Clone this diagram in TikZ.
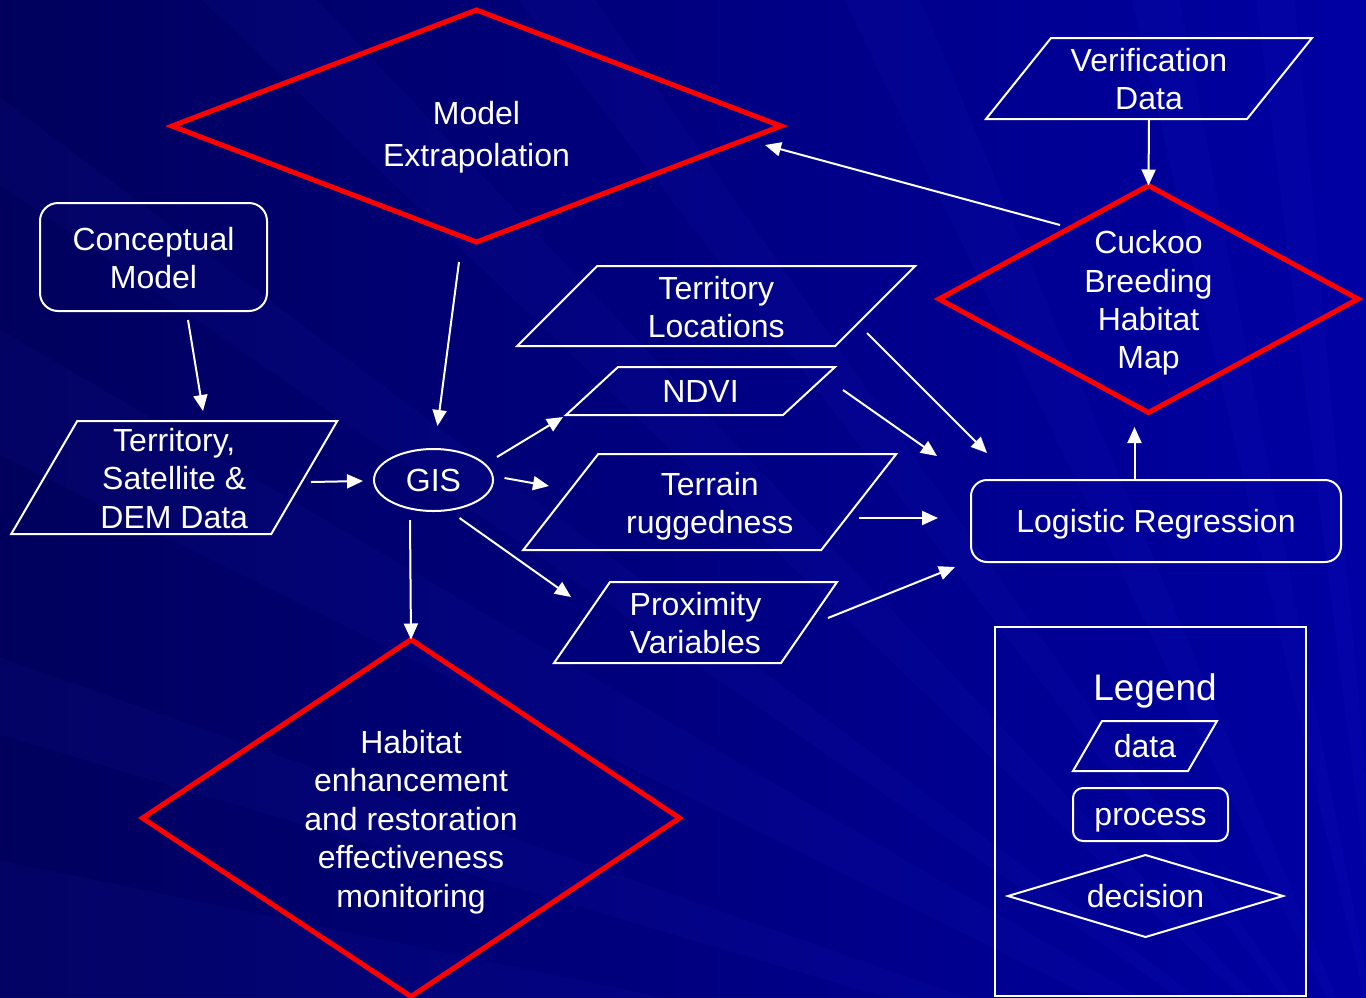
\documentclass[tikz,border=0pt]{standalone}
\usepackage{fontspec}
\setmainfont{Liberation Sans}
\usetikzlibrary{shapes.geometric,arrows.meta,calc}
\definecolor{bgA}{HTML}{00005C}
\definecolor{bgB}{HTML}{0000A4}
\definecolor{rayc}{HTML}{4040FF}
\definecolor{redline}{HTML}{FF0000}
\newcommand\pstrut{\rule[-0.212em]{0pt}{1.117em}}
\tikzset{
  wline/.style={draw=white, line width=2pt, line join=miter},
  lbl/.style={text=white, align=center, inner sep=0pt, outer sep=0pt, font=\fontsize{32}{38.4}\selectfont,
    execute at begin node=\pstrut, execute at end node=\pstrut},
  mtext/.style={label={[lbl, yshift=-4pt]center:{#1}}},
  redd/.style={diamond, draw=redline, line width=5pt, inner sep=0pt, outer sep=0pt},
  whited/.style={diamond, draw=white, line width=2pt, inner sep=0pt, outer sep=0pt},
  proc/.style={rectangle, draw=white, line width=2pt, inner sep=0pt, outer sep=0pt},
  databox/.style={rectangle, inner sep=0pt, outer sep=0pt},
  arr/.style={draw=white, line width=2pt, -{Triangle[length=16pt,width=14pt]}},
  ray/.style={fill=rayc, opacity=0.05},
}
\newcommand\paral[2]{\draw[wline] ($(#1.north west)+(#2,0)$) -- ($(#1.north east)+(#2,0)$) -- ($(#1.south east)+(-#2,0)$) -- ($(#1.south west)+(-#2,0)$) -- cycle;}
\begin{document}
\begin{tikzpicture}[x=1pt,y=-1pt]
\useasboundingbox (0,0) rectangle (1366,997);
% background
\shade[left color=bgA, right color=bgB] (0,0) rectangle (1366,997);
\begin{scope}
\clip (0,0) rectangle (1366,997);
\coordinate (F) at (1400,1150);
\fill[ray] (F) -- (-50,60) -- (-50,150) -- cycle;
\fill[ray] (F) -- (-50,300) -- (-50,430) -- cycle;
\fill[ray] (F) -- (-50,640) -- (-50,720) -- cycle;
\fill[ray] (F) -- (-50,850) -- (-50,1000) -- cycle;
\fill[ray] (F) -- (150,-50) -- (270,-50) -- cycle;
\fill[ray] (F) -- (480,-50) -- (560,-50) -- cycle;
\fill[ray] (F) -- (820,-50) -- (900,-50) -- cycle;
\fill[ray] (F) -- (1120,-50) -- (1170,-50) -- cycle;
\fill[ray] (F) -- (1250,-50) -- (1290,-50) -- cycle;
\end{scope}

% decisions
\node[redd, minimum width=609pt, minimum height=232pt, aspect=2.625] (me) at (476.5,126) {};
\node[lbl, font=\fontsize{32}{42}\selectfont] (metext) at (476.5,137.5) {Model\\Extrapolation};
\node[redd, minimum width=419pt, minimum height=227pt, aspect=1.85, mtext={Cuckoo\\Breeding\\Habitat\\Map}] (cbh) at (1148.5,299) {};
\node[redd, minimum width=537pt, minimum height=357pt, aspect=1.5, mtext={Habitat\\enhancement\\and restoration\\effectiveness\\monitoring}] (here) at (411,818) {};

% processes
\node[proc, minimum width=227pt, minimum height=108pt, rounded corners=18pt, mtext={Conceptual\\Model}] (cm) at (153.5,257) {};
\node[proc, lbl, minimum width=370pt, minimum height=82pt, rounded corners=16pt] (lr) at (1156,521) {Logistic Regression};
\node[ellipse, draw=white, line width=2pt, lbl, minimum width=119pt, minimum height=62pt] (gis) at (433.5,480) {GIS};

% data
\node[databox, minimum width=260pt, minimum height=113pt, mtext={Territory,\\Satellite \&\\DEM Data}] (tsd) at (174.25,477.5) {};
\paral{tsd}{33}
\node[databox, minimum width=318pt, minimum height=80pt, mtext={Territory\\Locations}] (tl) at (716.25,306) {};
\paral{tl}{40}
\node[lbl, minimum width=217pt, minimum height=48pt] (ndvi) at (700.5,391) {NDVI};
\paral{ndvi}{26}
\node[databox, minimum width=298pt, minimum height=96pt, mtext={Terrain\\ruggedness}] (tr) at (709.75,502) {};
\paral{tr}{37.5}
\node[databox, minimum width=227pt, minimum height=81pt, mtext={Proximity\\Variables}] (pv) at (695.5,622.5) {};
\paral{pv}{28}
\node[databox, minimum width=261pt, minimum height=81pt, mtext={Verification\\Data}] (vd) at (1149,78.5) {};
\paral{vd}{32.5}

% connectors
\draw[arr] ($(me)+(-17.5,136)$) -- ($(gis)+(4,-54)$);
\draw[arr] ($(cm)+(34.5,63)$) -- ($(tsd)+(28.75,-66.5)$);
\draw[arr] ($(tsd)+(136.75,4.5)$) -- ($(gis)+(-70.5,1)$);
\draw[arr] ($(gis)+(63.5,-23)$) -- ($(ndvi)+(-137.5,26)$);
\draw[arr] ($(gis)+(71,-2)$) -- ($(tr)+(-160.75,-16)$);
\draw[arr] ($(gis)+(26,38)$) -- ($(pv)+(-124.5,-25.5)$);
\draw[arr] ($(gis)+(-23.5,40)$) -- (here.north);
\draw[arr] ($(tl)+(150.75,27)$) -- ($(lr)+(-169,-68)$);
\draw[arr] ($(ndvi)+(142.5,-1)$) -- ($(lr)+(-219,-65)$);
\draw[arr] ($(tr)+(149.25,16)$) -- ($(lr)+(-218,-3)$);
\draw[arr] ($(pv)+(132.5,-4.5)$) -- ($(lr)+(-201,46)$);
\draw[arr] ($(lr)+(-21.5,-42)$) -- ($(cbh)+(-14,-1)+(0,129)$);
\draw[arr] (vd.south) -- (cbh.north);
\draw[arr] ($(cbh)+(-88.5,-74)$) -- ($(me)+(288.5,19)$);

% legend
\node[draw=white, line width=2.5pt, inner sep=0pt, outer sep=0pt, minimum width=311pt, minimum height=369pt] (legend) at (1150.5,811.5) {};
\node[lbl, font=\fontsize{37}{44}\selectfont] (legtitle) at (1155,688) {Legend};
\node[lbl, minimum width=115pt, minimum height=50pt] (ldata) at (1145,746) {data};
\paral{ldata}{14.5}
\node[proc, lbl, minimum width=155pt, minimum height=53pt, rounded corners=10pt] (lproc) at (1150.5,814.5) {process};
\node[whited, lbl, minimum width=275pt, minimum height=82pt, aspect=3.35] (ldec) at (1145.5,896) {decision};
\end{tikzpicture}
\end{document}
